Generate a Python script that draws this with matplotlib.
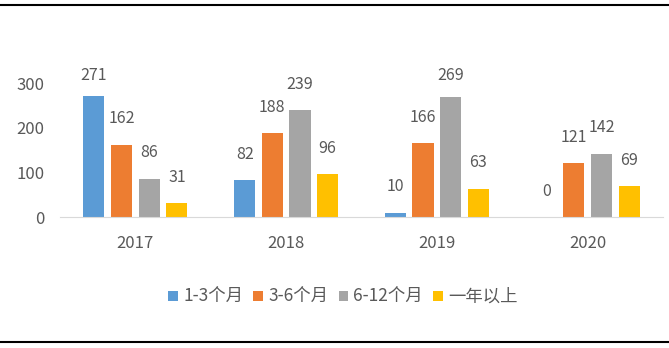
#!/usr/bin/env python3

import numpy as np
import matplotlib
matplotlib.use("Agg")
import matplotlib.pyplot as plt
from matplotlib.lines import Line2D

plt.rcParams['font.family'] = ['Noto Sans CJK SC', 'DejaVu Sans']

# data
years = ["2017", "2018", "2019", "2020"]
series = ["1-3个月", "3-6个月", "6-12个月", "一年以上"]
v_1_3 = [271, 82, 10, 0]
v_3_6 = [162, 188, 166, 121]
v_6_12 = [86, 239, 269, 142]
v_year = [31, 96, 63, 69]
values = [v_1_3, v_3_6, v_6_12, v_year]
colors = ["#5B9BD5", "#ED7D31", "#A5A5A5", "#FFC000"]
txt = "#595959"

fig = plt.figure(figsize=(6.69, 3.48), dpi=100)
ax = fig.add_axes([60/669, 1-217/348, 603/669, 156/348])
ymax = 350
px = 156 / ymax  # pixels per unit

x = np.arange(len(years))
w = 0.14
offsets = [-0.275, -0.092, 0.092, 0.275]
for vals, off, c, name in zip(values, offsets, colors, series):
    ax.bar(x + off, vals, w, color=c, label=name)
    for xi, v in zip(x + off, vals):
        # label sits above the bar, kept inside the plot area
        ly = min(v + 26/px, ymax - 14/px)
        ax.text(xi, ly, str(v), ha="center", va="center", fontsize=11.5, color=txt)

ax.set_xlim(-0.5, 3.5)
ax.set_ylim(0, ymax)
ax.set_yticks([0, 100, 200, 300])
ax.set_xticks(x)
ax.set_xticklabels(years)
ax.tick_params(axis="both", length=0, labelsize=12, labelcolor=txt)
ax.tick_params(axis="y", pad=11)
ax.tick_params(axis="x", pad=13)
for s in ["top", "right", "left"]:
    ax.spines[s].set_visible(False)
ax.spines["bottom"].set_color("#D9D9D9")

fig.legend(loc="center", bbox_to_anchor=(343/669, 1-297/348), ncol=4, frameon=False,
           fontsize=12.5, handlelength=0.55, handleheight=0.55, handletextpad=0.3,
           columnspacing=0.6, labelcolor=txt)

# black rules at top and bottom
fig.add_artist(Line2D([0, 1], [1-5/348, 1-5/348], color="black", lw=1.5))
fig.add_artist(Line2D([0, 1], [6/348, 6/348], color="black", lw=1.5))

fig.savefig("out.png", dpi=100)
